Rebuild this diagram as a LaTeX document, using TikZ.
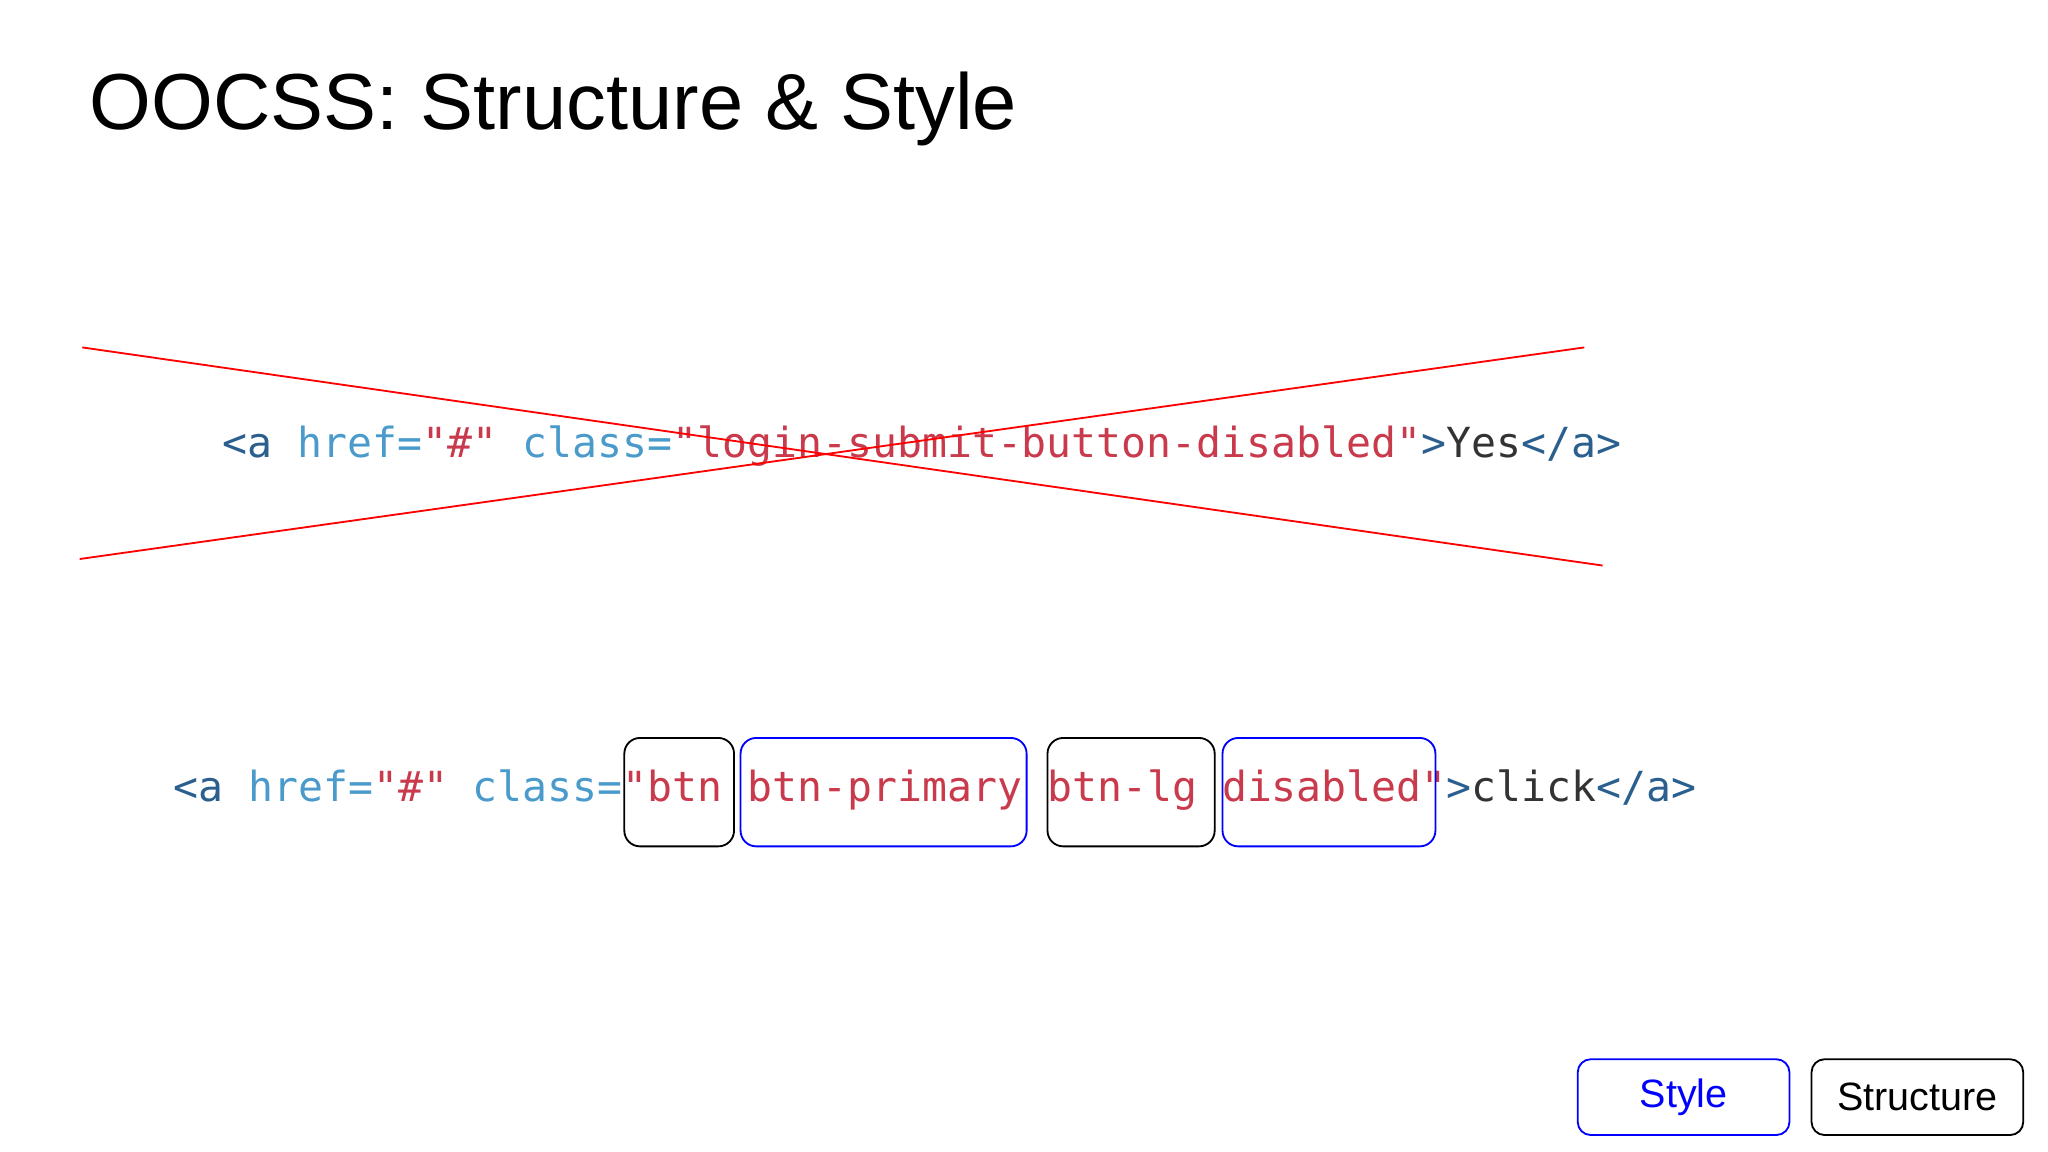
\documentclass[tikz,border=0pt]{standalone}
\usepackage{fontspec}
\setmainfont{Liberation Sans}
\setmonofont{DejaVu Sans Mono}
\definecolor{tagblue}{HTML}{2B5F8E}
\definecolor{attrblue}{HTML}{4A9BCB}
\definecolor{strred}{HTML}{C83A4C}
\definecolor{txtgray}{HTML}{333333}
\tikzset{Code Line/.style = {anchor = base west, inner sep = 0pt, font = \ttfamily\fontsize{9.03pt}{11pt}\selectfont},
  Class Box/.style = {draw, rounded corners = 0.12cm, thin},
  Legend Box/.style = {draw, rounded corners = 0.1cm, thin, minimum width = 1.62cm, minimum height = 0.58cm, font = \fontsize{8.6pt}{10pt}\selectfont}}
\newcommand{\tg}[1]{\textcolor{tagblue}{#1}}
\newcommand{\at}[1]{\textcolor{attrblue}{#1}}
\newcommand{\st}[1]{\textcolor{strred}{#1}}
\begin{document}
\begin{tikzpicture}[x = 0.01cm, y = -0.01cm]
  \useasboundingbox (0, 0) rectangle (1568, 882);

  \node[anchor = base west, inner sep = 0pt, font = \fontsize{17.3pt}{21pt}\selectfont] (title) at (68, 99) {OOCSS: Structure \& Style};

  % bad example
  \node[Code Line] (bad) at (170, 350) {\tg{<a} \at{href=}\st{"\#"} \at{class=}\st{"login-submit-button-disabled"}\tg{>}\textcolor{txtgray}{Yes}\tg{</a>}};
  \coordinate (X1) at (63, 266);
  \coordinate (X2) at (1227, 433);
  \coordinate (X3) at (61, 428);
  \coordinate (X4) at (1213, 266);
  \draw[red, thin] (X1) -- (X2);
  \draw[red, thin] (X3) -- (X4);

  % good example
  \node[Code Line] (good) at (132, 614) {\tg{<a} \at{href=}\st{"\#"} \at{class=}\st{"btn btn-primary btn-lg disabled"}\tg{>}\textcolor{txtgray}{click}\tg{</a>}};
  \draw[Class Box, black] (478, 565) rectangle (562, 648);
  \draw[Class Box, blue] (567, 565) rectangle (786, 648);
  \draw[Class Box, black] (802, 565) rectangle (930, 648);
  \draw[Class Box, blue] (936, 565) rectangle (1099, 648);

  % legend
  \node[Legend Box, draw = blue, text = blue] (style) at (1289, 840) {Style};
  \node[Legend Box, draw = black] (structure) at (1468, 840) {Structure};
\end{tikzpicture}
\end{document}
